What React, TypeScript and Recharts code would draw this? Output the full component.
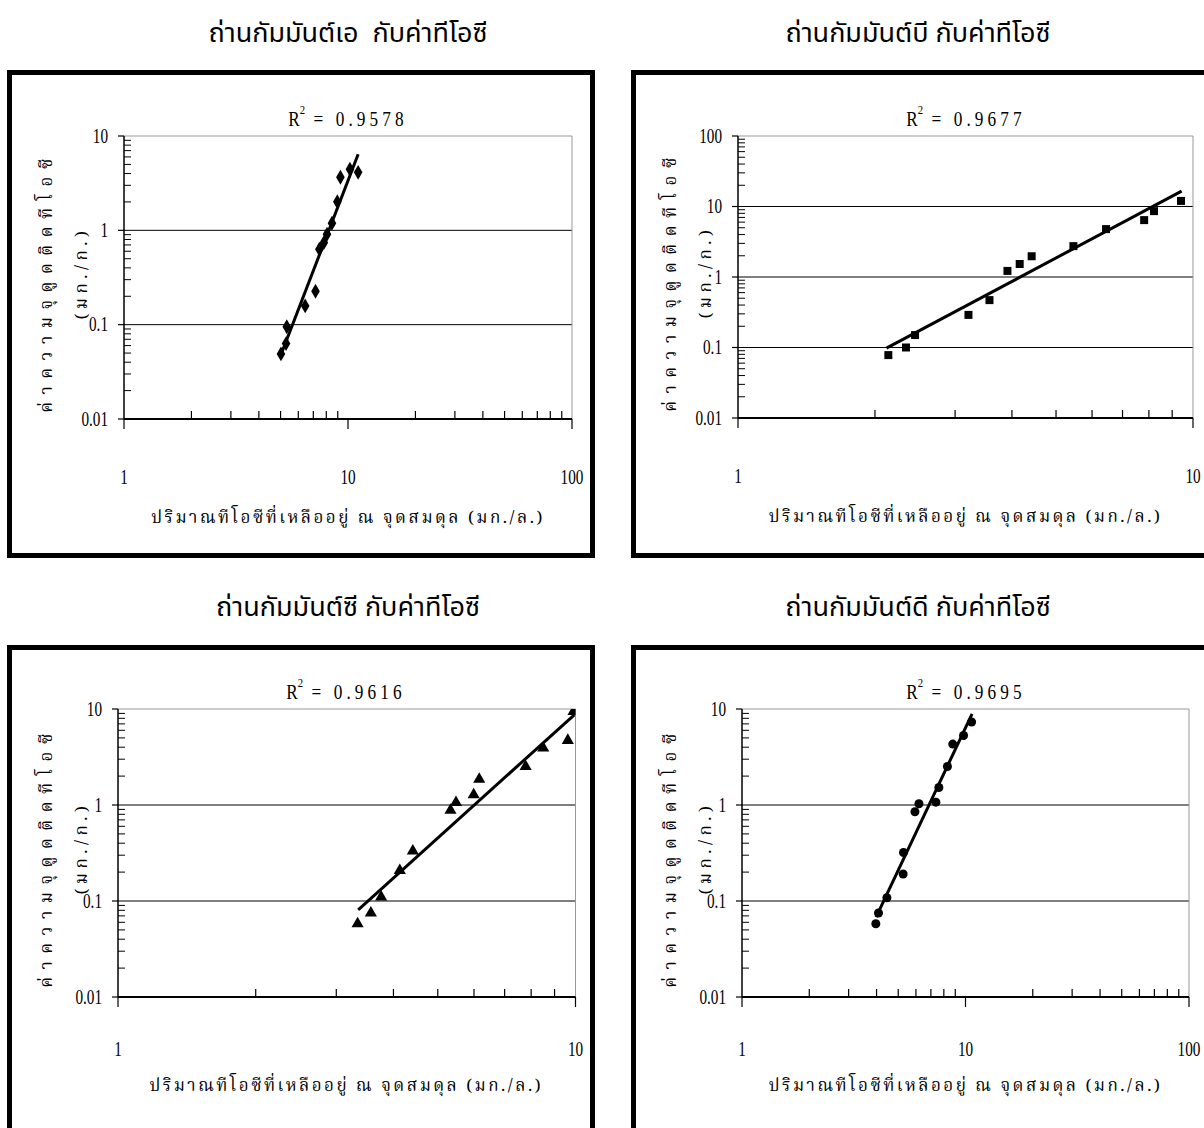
import React from 'react';
import { ScatterChart, Scatter, XAxis, YAxis, ZAxis, ReferenceLine } from 'recharts';

// ถ่านกัมมันต์เอ
const aEq = [5.02, 5.29, 5.33, 6.44, 7.16, 7.45, 7.8, 8.06, 8.48, 8.96, 9.25, 10.2, 11.1];
const aAds = [0.049, 0.063, 0.095, 0.158, 0.226, 0.63, 0.74, 0.91, 1.19, 2.01, 3.65, 4.44, 4.12];
const aFitX = [5.02, 11.1];
const aFitY = [0.048, 6.4];

// ถ่านกัมมันต์บี
const bEq = [2.14, 2.34, 2.45, 3.21, 3.57, 3.91, 4.16, 4.42, 5.46, 6.44, 7.81, 8.21, 9.41];
const bAds = [0.078, 0.1, 0.15, 0.29, 0.47, 1.22, 1.53, 1.97, 2.74, 4.78, 6.41, 8.6, 12.0];
const bFitX = [2.12, 9.44];
const bFitY = [0.098, 16.5];

// ถ่านกัมมันต์ซี
const cEq = [3.34, 3.57, 3.76, 4.13, 4.41, 5.33, 5.48, 5.99, 6.16, 7.78, 8.5, 9.62, 9.9];
const cAds = [0.058, 0.075, 0.11, 0.208, 0.332, 0.88, 1.06, 1.28, 1.85, 2.52, 3.93, 4.71, 9.4];
const cFitX = [3.35, 9.94];
const cFitY = [0.081, 8.7];

// ถ่านกัมมันต์ดี
const dEq = [3.97, 4.08, 4.45, 5.26, 5.28, 5.94, 6.19, 7.37, 7.6, 8.3, 8.77, 9.8, 10.65];
const dAds = [0.058, 0.075, 0.108, 0.191, 0.32, 0.85, 1.03, 1.07, 1.52, 2.52, 4.31, 5.3, 7.31];
const dFitX = [3.98, 10.7];
const dFitY = [0.068, 8.9];

const rSquared = ['0.9578', '0.9677', '0.9616', '0.9695'];
const titles = [
  'ถ่านกัมมันต์เอ  กับค่าทีโอซี',
  'ถ่านกัมมันต์บี กับค่าทีโอซี',
  'ถ่านกัมมันต์ซี กับค่าทีโอซี',
  'ถ่านกัมมันต์ดี กับค่าทีโอซี',
];
const yTitle = 'ค่าความจุดูดติดทีโอซี';
const yUnit = '(มก./ก.)';
const xTitle = 'ปริมาณทีโอซีที่เหลืออยู่ ณ จุดสมดุล (มก./ล.)';

// log axis ticks (majors get labels, the rest are minor marks)
const xTicks2 = [1, 2, 3, 4, 5, 6, 7, 8, 9, 10, 20, 30, 40, 50, 60, 70, 80, 90, 100];
const xTicks1 = [1, 2, 3, 4, 5, 6, 7, 8, 9, 10];
const yTicks3 = [
  0.01, 0.02, 0.03, 0.04, 0.05, 0.06, 0.07, 0.08, 0.09,
  0.1, 0.2, 0.3, 0.4, 0.5, 0.6, 0.7, 0.8, 0.9,
  1, 2, 3, 4, 5, 6, 7, 8, 9, 10,
];
const yTicks4 = [...yTicks3, 20, 30, 40, 50, 60, 70, 80, 90, 100];
const majors = [0.01, 0.1, 1, 10, 100];
const majorLabel: Record<number, string> = { 0.01: '0.01', 0.1: '0.1', 1: '1', 10: '10', 100: '100' };

const thaiSans = '"Noto Sans Thai", "Noto Sans Thai Looped", Garuda, Loma, "Tlwg Typo", Tahoma, sans-serif';
const thaiSerif = '"Noto Serif Thai", "Noto Sans Thai", Norasi, Kinnari, Garuda, "Liberation Serif", serif';
const numFont = '"Liberation Serif", "Times New Roman", serif';

const toPoints = (xs: number[], ys: number[]) => xs.map((x, i) => ({ x, y: ys[i] }));

// narrow serif digits like the original
const Num = ({ x, y, anchor, children }: { x: number; y: number; anchor: 'start' | 'middle' | 'end'; children: string }) => (
  <text transform={`translate(${x},${y}) scale(0.76,1)`} textAnchor={anchor} dominantBaseline="central"
    style={{ fontFamily: numFont, fontSize: 20 }} fill="#000">{children}</text>
);

const makeXTick = (labelGap: number) => (props: any) => {
  const { x, y, payload } = props;
  const v = payload.value;
  if (majors.includes(v)) {
    return (
      <g>
        <line x1={x} y1={y} x2={x} y2={y + 10} stroke="#000" strokeWidth={1.2} />
        <Num x={x} y={y + labelGap} anchor="middle">{majorLabel[v]}</Num>
      </g>
    );
  }
  return <line x1={x} y1={y} x2={x} y2={y - 8} stroke="#000" strokeWidth={1.2} />;
};

const YTick = (props: any) => {
  const { x, y, payload } = props;
  const v = payload.value;
  if (majors.includes(v)) {
    return (
      <g>
        <line x1={x - 6} y1={y} x2={x} y2={y} stroke="#000" strokeWidth={1.2} />
        <Num x={x - 16} y={y} anchor="end">{majorLabel[v]}</Num>
      </g>
    );
  }
  return <line x1={x} y1={y} x2={x + 7} y2={y} stroke="#000" strokeWidth={1} />;
};

const NoDot = () => <g />;

interface PanelProps {
  frame: { left: number; top: number; width: number; height: number };
  plot: { x0: number; y0: number; x1: number; y1: number };
  xDomain: [number, number];
  yDomain: [number, number];
  xTicks: number[];
  yTicks: number[];
  points: { x: number; y: number }[];
  fit: { x: number; y: number }[];
  shape: 'diamond' | 'square' | 'triangle' | 'circle';
  size: number;
  r2: string;
  title: string;
  titleX: number;
  titleY: number;
  labelGap: number;
  xTitleGap: number;
}

function Panel(p: PanelProps) {
  const padL = 100;
  const padT = 20;
  const padR = 20;
  const axisH = 80;
  const plotW = p.plot.x1 - p.plot.x0;
  const plotH = p.plot.y1 - p.plot.y0;
  const cx = (p.plot.x0 + p.plot.x1) / 2;
  const grid = majors.filter((v) => v > p.yDomain[0] && v < p.yDomain[1]);
  return (
    <>
      <div style={{ position: 'absolute', left: p.titleX, top: p.titleY, transform: 'translate(-50%, -50%)',
        fontFamily: thaiSans, fontSize: 27, whiteSpace: 'pre', color: '#000' }}>{p.title}</div>
      <div style={{ position: 'absolute', left: p.frame.left, top: p.frame.top, width: p.frame.width,
        height: p.frame.height, border: '5px solid #000', boxSizing: 'border-box' }} />
      <div style={{ position: 'absolute', left: p.plot.x0 - padL, top: p.plot.y0 - padT }}>
        <ScatterChart width={padL + plotW + padR} height={padT + plotH + axisH}
          margin={{ top: padT, right: padR, bottom: 0, left: 0 }}>
          <XAxis dataKey="x" type="number" scale="log" domain={p.xDomain} ticks={p.xTicks} interval={0}
            allowDataOverflow height={axisH} tickSize={0} tickMargin={0}
            axisLine={{ stroke: '#000', strokeWidth: 2 }} tick={makeXTick(p.labelGap)} />
          <YAxis dataKey="y" type="number" scale="log" domain={p.yDomain} ticks={p.yTicks} interval={0}
            allowDataOverflow width={padL} tickSize={0} tickMargin={0}
            axisLine={{ stroke: '#000', strokeWidth: 1.5 }} tick={YTick} />
          <ZAxis range={[p.size, p.size]} />
          {grid.map((v) => (
            <ReferenceLine key={v} y={v} stroke="#000" strokeWidth={1} />
          ))}
          <ReferenceLine y={p.yDomain[1]} stroke="#999" strokeWidth={1} />
          <ReferenceLine x={p.xDomain[1]} stroke="#999" strokeWidth={1} />
          <Scatter data={p.points} shape={p.shape} fill="#000" isAnimationActive={false} />
          <Scatter data={p.fit} shape={NoDot} line={{ stroke: '#000', strokeWidth: 3 }} isAnimationActive={false} />
        </ScatterChart>
      </div>
      <div style={{ position: 'absolute', left: cx, top: p.plot.y0 - 4, transform: 'translate(-50%, -100%) scaleX(0.82)',
        fontFamily: numFont, fontSize: 21, lineHeight: '20px', whiteSpace: 'pre' }}>
        R<span style={{ fontSize: 13, position: 'relative', top: -12 }}>2</span>
        <span style={{ letterSpacing: 5 }}> = {p.r2}</span>
      </div>
      <div style={{ position: 'absolute', left: p.frame.left + 40, top: (p.plot.y0 + p.plot.y1) / 2 + 4,
        transform: 'translate(-50%, -50%) rotate(-90deg)', fontFamily: thaiSerif, fontSize: 17,
        letterSpacing: 7.5, whiteSpace: 'pre' }}>{yTitle}</div>
      <div style={{ position: 'absolute', left: p.frame.left + 75, top: (p.plot.y0 + p.plot.y1) / 2 - 5,
        transform: 'translate(-50%, -50%) rotate(-90deg)', fontFamily: thaiSerif, fontSize: 17,
        letterSpacing: 4.5, whiteSpace: 'pre' }}>{yUnit}</div>
      <div style={{ position: 'absolute', left: cx, top: p.plot.y1 + p.xTitleGap, transform: 'translate(-50%, -50%)',
        fontFamily: thaiSerif, fontSize: 17, letterSpacing: 2.5, whiteSpace: 'pre' }}>{xTitle}</div>
    </>
  );
}

export default function App() {
  return (
    <div style={{ position: 'absolute', left: 0, top: 0, width: 1204, height: 1128, overflow: 'hidden', background: '#fff' }}>
      <Panel frame={{ left: 7, top: 70, width: 588, height: 488 }} plot={{ x0: 124, y0: 136, x1: 572, y1: 419 }}
        xDomain={[1, 100]} yDomain={[0.01, 10]} xTicks={xTicks2} yTicks={yTicks3}
        points={toPoints(aEq, aAds)} fit={toPoints(aFitX, aFitY)} shape="diamond" size={40}
        r2={rSquared[0]} title={titles[0]} titleX={348} titleY={33} labelGap={58} xTitleGap={99} />
      <Panel frame={{ left: 631, top: 70, width: 600, height: 488 }} plot={{ x0: 738, y0: 136, x1: 1193, y1: 418 }}
        xDomain={[1, 10]} yDomain={[0.01, 100]} xTicks={xTicks1} yTicks={yTicks4}
        points={toPoints(bEq, bAds)} fit={toPoints(bFitX, bFitY)} shape="square" size={36}
        r2={rSquared[1]} title={titles[1]} titleX={918} titleY={33} labelGap={58} xTitleGap={99} />
      <Panel frame={{ left: 7, top: 645, width: 588, height: 520 }} plot={{ x0: 117.5, y0: 709, x1: 575, y1: 997 }}
        xDomain={[1, 10]} yDomain={[0.01, 10]} xTicks={xTicks1} yTicks={yTicks3}
        points={toPoints(cEq, cAds)} fit={toPoints(cFitX, cFitY)} shape="triangle" size={30}
        r2={rSquared[2]} title={titles[2]} titleX={348} titleY={607} labelGap={52} xTitleGap={89} />
      <Panel frame={{ left: 631, top: 645, width: 600, height: 520 }} plot={{ x0: 742, y0: 709, x1: 1189, y1: 997 }}
        xDomain={[1, 100]} yDomain={[0.01, 10]} xTicks={xTicks2} yTicks={yTicks3}
        points={toPoints(dEq, dAds)} fit={toPoints(dFitX, dFitY)} shape="circle" size={44}
        r2={rSquared[3]} title={titles[3]} titleX={918} titleY={607} labelGap={52} xTitleGap={89} />
    </div>
  );
}
